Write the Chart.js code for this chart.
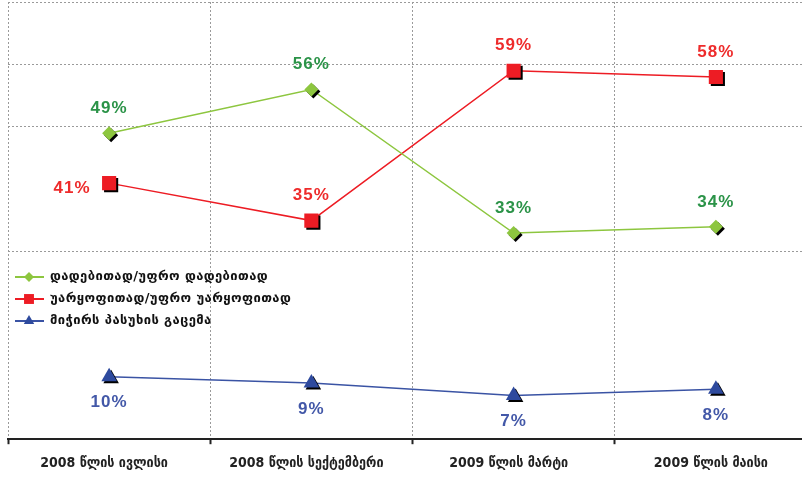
<!DOCTYPE html>
<html>
<head>
<meta charset="utf-8">
<script src="https://cdn.jsdelivr.net/npm/chart.js@4.4.0/dist/chart.umd.min.js"></script>
<style>
  html, body { margin: 0; padding: 0; background: #fff; overflow: hidden; }
  #wrap { width: 817px; height: 483px; }
</style>
</head>
<body>
<div id="wrap"><canvas id="chart" width="817" height="483"></canvas></div>
<script>
const periods = ['2008 წლის ივლისი', '2008 წლის სექტემბერი', '2009 წლის მარტი', '2009 წლის მაისი'];
const positive = [49, 56, 33, 34];
const negative = [41, 35, 59, 58];
const noAnswer = [10, 9, 7, 8];
const seriesNames = ['დადებითად/უფრო დადებითად', 'უარყოფითად/უფრო უარყოფითად', 'მიჭირს პასუხის გაცემა'];
const shownGrid = [30, 50, 60, 70];

// markers get a hard black drop shadow, lines don't
const baseDraw = Chart.PointElement.prototype.draw;
Chart.PointElement.prototype.draw = function(ctx, area) {
    ctx.save();
    ctx.shadowColor = '#000';
    ctx.shadowOffsetX = 2;
    ctx.shadowOffsetY = 2;
    ctx.shadowBlur = 0;
    baseDraw.call(this, ctx, area);
    ctx.restore();
};

const valueLabels = {
    id: 'valueLabels',
    afterDatasetsDraw(chart) {
        const ctx = chart.ctx;
        ctx.save();
        ctx.font = 'bold 17px "Liberation Sans", Arial, sans-serif';
        ctx.letterSpacing = '1px';
        ctx.textAlign = 'center';
        ctx.textBaseline = 'middle';
        chart.data.datasets.forEach((ds, i) => {
            const meta = chart.getDatasetMeta(i);
            meta.data.forEach((pt, j) => {
                const place = ds.labelPlace[j];
                let x = pt.x, y = pt.y;
                if (place === 'top') y -= 25;
                else if (place === 'bottom') y += 26;
                else { x -= 37; y += 5; }
                ctx.fillStyle = ds.labelColor;
                ctx.fillText(ds.data[j] + '%', x, y);
            });
        });
        ctx.restore();
    }
};

const insideLegend = {
    id: 'insideLegend',
    afterDraw(chart) {
        const ctx = chart.ctx;
        ctx.save();
        chart.data.datasets.forEach((ds, i) => {
            const y = 277 + i * 22;
            ctx.strokeStyle = ds.borderColor;
            ctx.lineWidth = 2;
            ctx.beginPath();
            ctx.moveTo(15, y);
            ctx.lineTo(44, y);
            ctx.stroke();
            ctx.fillStyle = ds.backgroundColor;
            Chart.helpers.drawPoint(ctx, { pointStyle: ds.pointStyle, radius: ds.legendRadius, borderWidth: 0, rotation: 0 }, 29, y);
            ctx.fillStyle = '#111';
            ctx.font = 'bold 13px "DejaVu Sans", sans-serif';
            ctx.letterSpacing = '0.4px';
            ctx.textAlign = 'left';
            ctx.textBaseline = 'middle';
            ctx.fillText(ds.label, 50, y);
        });
        ctx.restore();
    }
};

const ctx = document.getElementById('chart').getContext('2d');
new Chart(ctx, {
    type: 'line',
    data: {
        labels: periods,
        datasets: [
            {
                label: seriesNames[0],
                data: positive,
                borderColor: '#8dc63f',
                backgroundColor: '#8dc63f',
                pointStyle: 'rectRot',
                pointRadius: 7,
                legendRadius: 5,
                labelColor: '#2b9348',
                labelPlace: ['top', 'top', 'top', 'top']
            },
            {
                label: seriesNames[1],
                data: negative,
                borderColor: '#ed1c24',
                backgroundColor: '#ed1c24',
                pointStyle: 'rect',
                pointRadius: 10,
                legendRadius: 7,
                labelColor: '#ee2b2b',
                labelPlace: ['left', 'top', 'top', 'top']
            },
            {
                label: seriesNames[2],
                data: noAnswer,
                borderColor: '#3a53a4',
                backgroundColor: '#2e4a9e',
                pointStyle: 'triangle',
                pointRadius: 9,
                legendRadius: 6,
                labelColor: '#4358a8',
                labelPlace: ['bottom', 'bottom', 'bottom', 'bottom']
            }
        ]
    },
    options: {
        responsive: false,
        animation: false,
        layout: { autoPadding: false, padding: { left: 8, top: 2, right: 0, bottom: 0 } },
        elements: {
            line: { borderWidth: 1.5, tension: 0 },
            point: { borderWidth: 0, hoverRadius: 7 }
        },
        scales: {
            x: {
                offset: true,
                grid: {
                    display: true,
                    offset: true,
                    color: '#9a9a9a',
                    lineWidth: 1,
                    tickLength: 5,
                    tickColor: '#222',
                    tickWidth: 2,
                    tickBorderDash: []
                },
                border: { display: true, color: '#222', width: 2, dash: [2, 2] },
                ticks: {
                    color: '#222',
                    padding: 11,
                    labelOffset: -5,
                    font: { family: '"DejaVu Sans Condensed", "DejaVu Sans", sans-serif', size: 14, weight: 'bold' }
                }
            },
            y: {
                min: 0,
                max: 70,
                ticks: { display: false, stepSize: 10 },
                border: { display: false, dash: [2, 2] },
                grid: {
                    drawTicks: false,
                    color: c => shownGrid.includes(c.tick.value) ? '#9a9a9a' : 'rgba(0,0,0,0)'
                }
            }
        },
        plugins: {
            legend: { display: false },
            tooltip: { enabled: false }
        }
    },
    plugins: [valueLabels, insideLegend]
});
</script>
</body>
</html>
